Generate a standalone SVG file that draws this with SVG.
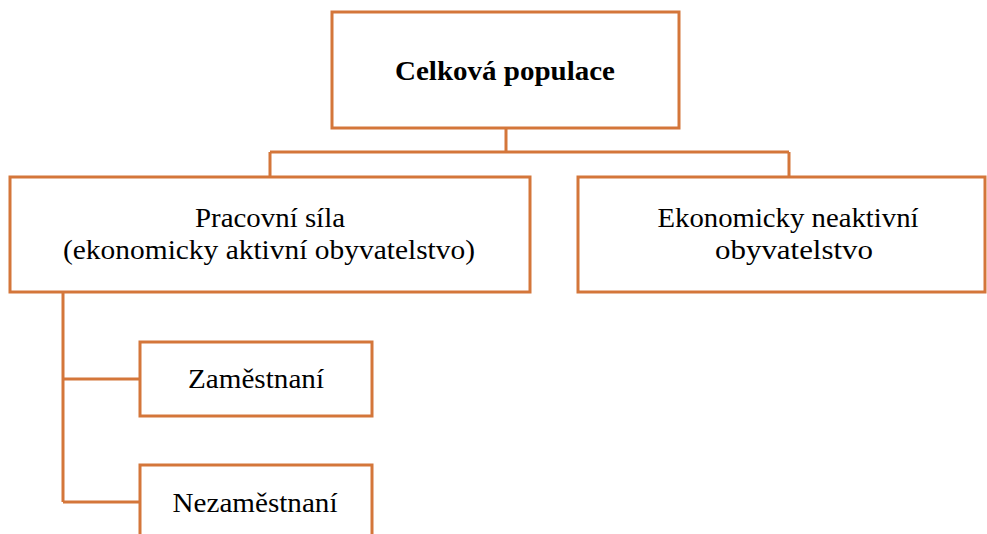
<svg xmlns="http://www.w3.org/2000/svg" width="987" height="534" viewBox="0 0 987 534">
<style>
.box{fill:#fff;stroke:#D4763A;stroke-width:3}
.con{fill:none;stroke:#D4763A;stroke-width:3}
.t{font-family:'Liberation Serif','Times New Roman',serif;fill:#000;text-anchor:middle;font-size:28px}
.b{font-weight:bold;font-size:27px}
</style>
<rect width="987" height="534" fill="#fff"/>
<g id="connectors">
<path class="con" d="M506 128V152M270 152H789M270 152V177M789 152V177"/>
<path class="con" d="M63 292V502M63 379H140M63 502H140"/>
</g>
<g id="n1"><rect class="box" x="332" y="12" width="347" height="116"/><text class="t b" x="505" y="80" textLength="220" lengthAdjust="spacingAndGlyphs">Celková populace</text></g>
<g id="n2"><rect class="box" x="10" y="177" width="520" height="115"/><text class="t" x="270" y="227" textLength="150" lengthAdjust="spacingAndGlyphs">Pracovní síla</text><text class="t" x="269" y="259" textLength="412" lengthAdjust="spacingAndGlyphs">(ekonomicky aktivní obyvatelstvo)</text></g>
<g id="n3"><rect class="box" x="578" y="177" width="407" height="115"/><text class="t" x="788" y="227" textLength="261" lengthAdjust="spacingAndGlyphs">Ekonomicky neaktivní</text><text class="t" x="794" y="259" textLength="158" lengthAdjust="spacingAndGlyphs">obyvatelstvo</text></g>
<g id="n4"><rect class="box" x="140" y="342" width="232" height="74"/><text class="t" x="256" y="388" textLength="136" lengthAdjust="spacingAndGlyphs">Zaměstnaní</text></g>
<g id="n5"><rect class="box" x="140" y="465" width="232" height="80"/><text class="t" x="255" y="512" textLength="165" lengthAdjust="spacingAndGlyphs">Nezaměstnaní</text></g>
</svg>
